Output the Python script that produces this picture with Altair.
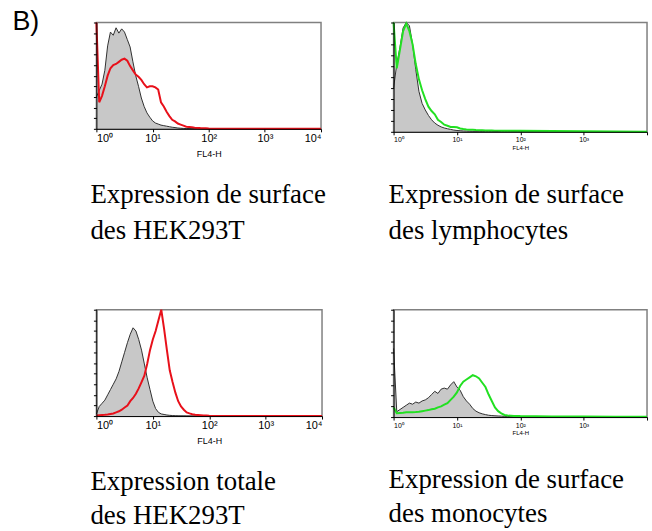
import altair as alt
import pandas as pd

# x grid: decades (log10 of FL4-H channel value)
EXPONENTS = [0.00, 0.05, 0.10, 0.15, 0.20, 0.25, 0.30, 0.35, 0.40, 0.45,
             0.50, 0.55, 0.60, 0.65, 0.70, 0.75, 0.80, 0.85, 0.90, 0.95,
             1.00, 1.05, 1.10, 1.15, 1.20, 1.25, 1.30, 1.35, 1.40, 1.45,
             1.50, 1.55, 1.60, 1.65, 1.70, 1.75, 1.80, 1.85, 1.90, 1.95,
             2.00, 2.50, 3.00, 3.50, 4.00]

# Top-left: surface expression, HEK293T (control grey, stained red)
HEK_SURF_CTRL = [30, 36, 42, 55, 78, 91, 88, 95, 90, 94,
                 91, 84, 77, 63, 50, 40, 29, 21, 15, 11,
                 7.5, 5.5, 4.5, 3.5, 3, 2.5, 2, 1.5, 1.2, 0.8,
                 0.6, 0.4, 0.3, 0.3, 0.2, 0.2, 0.2, 0.1, 0.1, 0.1,
                 0, 0.2, 0, 0, 0]
HEK_SURF_STAIN = [100, 25, 31, 40, 50, 57, 60, 61, 63, 65,
                  66, 64, 59, 55, 51, 49, 46, 42, 39, 40,
                  40, 39, 37, 25, 21, 16, 12, 8.5, 7, 5,
                  4, 3, 2, 1.7, 1.4, 1.1, 0.9, 0.7, 0.6, 0.5,
                  0.3, 0, 0, 0, 0]

# Top-right: surface expression, lymphocytes (control grey, stained green)
LYMPHO_CTRL = [40, 62, 77, 95, 100, 97, 80, 57, 37, 26,
               20, 15, 11, 8, 6, 4.5, 3.5, 2.8, 2.2, 1.6,
               1.2, 1.0, 0.8, 0.7, 0.6, 0.5, 0.5, 0.5, 0.4, 0.4,
               0.4, 0.4, 0.3, 0.3, 0.3, 0.3, 0.3, 0.3, 0.3, 0.3,
               0.3, 0.2, 0.1, 0, 0]
LYMPHO_STAIN = [100, 58, 75, 92, 99, 92, 80, 62, 48, 38,
                30, 23, 19, 16, 11, 9, 6.5, 5.5, 4.5, 4.5,
                4.2, 3, 2.5, 2.2, 2, 1.8, 1.6, 1.5, 1.4, 1.3,
                1.2, 1.2, 1.1, 1.1, 1.0, 1.0, 1.0, 1.0, 0.9, 0.9,
                0.9, 0.8, 0.5, 0.2, 0.1]

# Bottom-left: total expression, HEK293T (control grey, stained red)
HEK_TOT_CTRL = [2, 9, 12, 15, 20, 25, 30, 35, 42, 51,
                60, 69, 77, 83, 80, 72, 62, 49, 36, 25,
                14, 7, 3.5, 2, 1.5, 1, 0.7, 0.5, 0.3, 0.2,
                0.1, 0.1, 0, 0, 0, 0, 0, 0, 0, 0,
                0, 0, 0, 0, 0]
HEK_TOT_STAIN = [0.5, 0.8, 1, 1.2, 1.5, 2, 2.5, 3.5, 4.5, 6,
                 8, 10, 14, 17, 21, 26, 32, 38, 49, 62,
                 72, 80, 90, 100, 82, 62, 43, 32, 22, 14,
                 9, 6, 3.5, 2.5, 1.8, 1.2, 1.0, 0.8, 0.6, 0.5,
                 0.3, 0.1, 0, 0, 0]

# Bottom-right: surface expression, monocytes (control grey, stained green)
MONO_CTRL = [64, 5, 7, 9, 11, 13, 12, 14, 13, 15,
             16, 18, 21, 24, 22, 26, 27, 26, 30, 33,
             28, 25, 19, 15, 12, 8, 5.5, 4, 3, 2.3,
             1.7, 1.4, 1.2, 1.0, 0.9, 0.7, 0.6, 0.5, 0.3, 0.3,
             0.2, 0.1, 0, 0, 0]
MONO_STAIN = [9, 3.5, 3.8, 4, 4.4, 4.6, 4.6, 4.7, 5, 5.5,
              6, 6.5, 7.2, 7.8, 9, 10, 11.5, 13, 16, 19,
              23, 29, 33, 35, 37, 39, 38, 36, 32, 28,
              21, 15, 9, 5.5, 3.5, 2, 1.5, 1.3, 1.1, 1.0,
              0.9, 0.6, 0.5, 0.3, 0.2]

TICK_VALUES = [1, 10, 100, 1000, 10000]
TICK_LABELS = ["10⁰", "10¹", "10²", "10³", "10⁴"]
AXIS_TITLE = "FL4-H"
PANEL_LABEL = "B)"

CAPTIONS = [
    ["Expression de surface", "des HEK293T"],
    ["Expression de surface", "des lymphocytes"],
    ["Expression totale", "des HEK293T"],
    ["Expression de surface", "des monocytes"],
]

RED = "#e8101a"
GREEN = "#22e022"
SERIF = "Liberation Serif, Times New Roman, serif"


def label_expr(hide_last):
    parts = []
    for i, (v, lab) in enumerate(zip(TICK_VALUES, TICK_LABELS)):
        txt = "" if (hide_last and i == len(TICK_VALUES) - 1) else lab
        parts.append(f"datum.value == {v} ? '{txt}' : ")
    return "".join(parts) + "''"


def panel(ctrl, stain, color, w, h, caption, big, cap_offset, line_h,
          label=None):
    df = pd.DataFrame({
        "fl": [10 ** e for e in EXPONENTS],
        "ctrl": ctrl,
        "stain": stain,
    })
    x = alt.X(
        "fl:Q",
        scale=alt.Scale(type="log", domain=[1, 10000], nice=False),
        axis=alt.Axis(
            values=TICK_VALUES,
            labelExpr=label_expr(not big),
            title=AXIS_TITLE,
            titleFontSize=9 if big else 6,
            titleFontWeight="normal",
            titlePadding=6 if big else 2,
            labelFontSize=11 if big else 7,
            labelPadding=1,
            tickSize=3,
            grid=False,
            zindex=1,
        ),
    )
    yscale = alt.Scale(domain=[0, 100], nice=False)
    if label is not None:
        yaxis = alt.Axis(labels=False, title=label, tickCount=8, tickSize=3,
                         grid=False, zindex=1, titleAngle=0, titleX=-85,
                         titleY=7, titleAlign="left",
                         titleBaseline="alphabetic", titleFontSize=27,
                         titleFontWeight="normal", titleFont="Liberation Sans")
    else:
        yaxis = alt.Axis(labels=False, title=None, tickCount=8, tickSize=3,
                         grid=False, zindex=1)
    base = alt.Chart(df)
    area = base.mark_area(color="#c8c8c8").encode(
        x=x, y=alt.Y("ctrl:Q", scale=yscale, axis=yaxis))
    line_c = base.mark_line(color="#303030", strokeWidth=1).encode(
        x="fl:Q", y="ctrl:Q")
    line_s = base.mark_line(color=color, strokeWidth=2).encode(
        x="fl:Q", y="stain:Q")
    return alt.layer(area, line_c, line_s).properties(
        width=w,
        height=h,
        title=alt.TitleParams(
            caption,
            orient="bottom",
            anchor="start",
            frame="group",
            font=SERIF,
            fontSize=27,
            fontWeight="normal",
            lineHeight=line_h,
            color="black",
            offset=cap_offset,
            dx=-6 if big else -5,
        ),
    )


tl = panel(HEK_SURF_CTRL, HEK_SURF_STAIN, RED, 226, 107, CAPTIONS[0], True,
           24, 36, label=PANEL_LABEL)
tr = panel(LYMPHO_CTRL, LYMPHO_STAIN, GREEN, 255, 110, CAPTIONS[1], False,
           32, 36)
bl = panel(HEK_TOT_CTRL, HEK_TOT_STAIN, RED, 227, 107, CAPTIONS[2], True,
           23, 35)
br = panel(MONO_CTRL, MONO_STAIN, GREEN, 255, 108, CAPTIONS[3], False,
           31, 35)

chart = alt.concat(
    tl, tr, bl, br, columns=2, spacing={"column": 72, "row": 179}
).properties(
    bounds="flush",
    padding={"left": 11, "top": 5, "right": 0, "bottom": 0},
    background="white",
).configure_view(
    stroke="#808080", strokeWidth=1.5
).configure_axis(
    domainColor="black", tickColor="black", labelColor="black",
    titleColor="black", labelFont="Liberation Sans", titleFont="Liberation Sans",
)

chart.save("out.html", embed_options={"renderer": "svg", "actions": False})
